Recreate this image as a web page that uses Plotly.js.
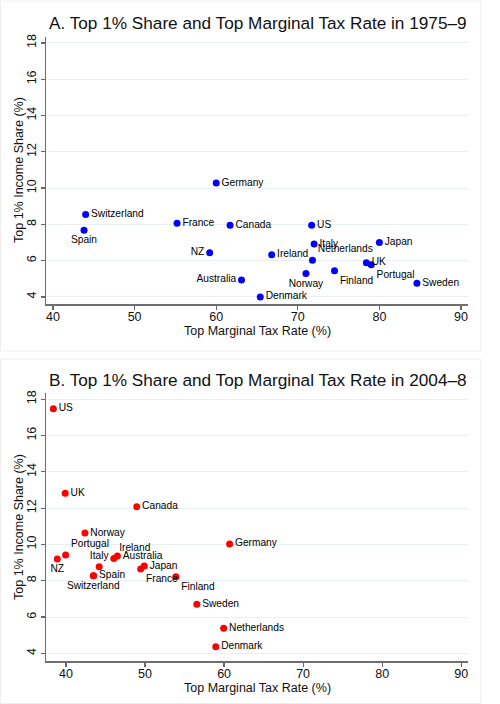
<!DOCTYPE html>
<html>
<head>
<meta charset="utf-8">
<script src="https://cdn.plot.ly/plotly-3.0.1.min.js"></script>
<style>
  html, body { margin: 0; padding: 0; background: #fff; }
  #chart { width: 500px; height: 704px; }
</style>
</head>
<body>
<div id="chart"></div>
<script>
// Panel A, 1975-9
const countriesA = ["Germany", "Switzerland", "Spain", "France", "Canada", "US", "NZ", "Italy", "Japan",
  "Ireland", "Netherlands", "UK", "Portugal", "Finland", "Norway", "Australia", "Sweden", "Denmark"];
const taxRateA = [60.0, 44.0, 43.8, 55.2, 61.7, 71.7, 59.2, 72.0, 80.0,
  66.8, 71.8, 78.4, 79.0, 74.5, 71.0, 63.1, 84.6, 65.4];
const top1ShareA = [10.28, 8.54, 7.67, 8.06, 7.95, 7.95, 6.43, 6.92, 7.0,
  6.33, 6.02, 5.89, 5.78, 5.45, 5.29, 4.94, 4.75, 4.0];

// Panel B, 2004-8
const countriesB = ["US", "UK", "Canada", "Norway", "Germany", "Portugal", "NZ", "Italy", "Ireland",
  "Australia", "Spain", "Switzerland", "Japan", "France", "Finland", "Sweden", "Netherlands", "Denmark"];
const taxRateB = [38.4, 39.9, 48.95, 42.4, 60.7, 39.95, 38.9, 44.2, 46.05,
  46.5, 43.5, 43.45, 49.9, 49.45, 53.9, 56.55, 59.95, 58.95];
const top1ShareB = [17.47, 12.82, 12.08, 10.63, 10.03, 9.42, 9.2, 8.77, 9.22,
  9.36, 8.28, 8.27, 8.81, 8.65, 8.22, 6.7, 5.38, 4.36];

const xTicks = [40, 50, 60, 70, 80, 90];
const yTicks = [4, 6, 8, 10, 12, 14, 16, 18];

// where each country label sits relative to its dot
const labelPosA = ["middle right", "middle right", "bottom center", "middle right", "middle right",
  "middle right", "middle left", "middle right", "middle right", "middle right", "top right",
  "middle right", "bottom right", "bottom right", "bottom center", "middle left", "middle right",
  "middle right"];
const labelPosB = ["middle right", "middle right", "middle right", "middle right", "middle right",
  "top right", "bottom center", "top center", "top right", "middle right", "middle right",
  "bottom center", "middle right", "bottom right", "bottom right", "middle right", "middle right",
  "middle right"];

const FONT = "Liberation Sans, Arial, Helvetica, sans-serif";

function scatter(x, y, text, pos, color, xa, ya) {
  return {
    x: x, y: y, text: text, textposition: pos,
    type: "scatter", mode: "markers+text",
    xaxis: xa, yaxis: ya,
    marker: { color: color, size: 7 },
    textfont: { family: FONT, size: 10.2, color: "#000" },
    cliponaxis: false,
    hoverinfo: "skip",
    showlegend: false,
  };
}

function xAxis(range, domain, anchor) {
  return {
    domain: domain, anchor: anchor, range: range,
    tickvals: xTicks, ticks: "outside", ticklen: 4, tickwidth: 1.2, tickcolor: "#666",
    ticklabelstandoff: -4,
    showline: true, linecolor: "#6e6e6e", linewidth: 1.5,
    showgrid: false, zeroline: false,
    tickfont: { family: FONT, size: 12.5, color: "#111" },
  };
}

function yAxis(range, domain, anchor) {
  return {
    domain: domain, anchor: anchor, range: range,
    tickvals: yTicks, ticks: "outside", ticklen: 4, tickwidth: 1.2, tickcolor: "#666",
    tickangle: -90,
    showline: true, linecolor: "#6e6e6e", linewidth: 1.5,
    showgrid: true, gridcolor: "#e8f0f1", gridwidth: 1,
    zeroline: false,
    tickfont: { family: FONT, size: 12.5, color: "#111" },
  };
}

function label(text, x, y, size, opts) {
  return Object.assign({
    text: text, x: x, y: y, xref: "paper", yref: "paper",
    showarrow: false, font: { family: FONT, size: size, color: "#111" },
  }, opts || {});
}

const H = 704, W = 500;
const px = (v) => v / W;
const py = (v) => 1 - v / H;

const data = [
  scatter(taxRateA, top1ShareA, countriesA, labelPosA, "#0000ff", "x", "y"),
  scatter(taxRateB, top1ShareB, countriesB, labelPosB, "#ff0000", "x2", "y2"),
];

const layout = {
  width: W, height: H,
  margin: { l: 0, r: 0, t: 0, b: 0 },
  paper_bgcolor: "#fff", plot_bgcolor: "#fff",
  xaxis: xAxis([39.14, 90.86], [px(46), px(468)], "y"),
  yaxis: yAxis([3.61, 18.33], [py(304), py(37)], "x"),
  xaxis2: xAxis([37.47, 90.86], [px(46), px(468)], "y2"),
  yaxis2: yAxis([3.58, 18.36], [py(661), py(392.7)], "x2"),
  shapes: [
    { type: "rect", xref: "paper", yref: "paper", x0: px(0.5), x1: px(481), y0: py(351), y1: py(1),
      line: { color: "#eeeeee", width: 1 } },
    { type: "rect", xref: "paper", yref: "paper", x0: px(0.5), x1: px(481), y0: py(703.5), y1: py(359),
      line: { color: "#eeeeee", width: 1 } },
  ],
  annotations: [
    label("A. Top 1% Share and Top Marginal Tax Rate in 1975\u20139", px(47), py(23), 17.2,
      { xanchor: "left", yanchor: "middle" }),
    label("Top Marginal Tax Rate (%)", px(257.5), py(331), 12.5, { xanchor: "center", yanchor: "middle" }),
    label("Top 1% Income Share (%)", px(19), py(170), 12.5,
      { xanchor: "center", yanchor: "middle", textangle: -90 }),
    label("B. Top 1% Share and Top Marginal Tax Rate in 2004\u20138", px(47), py(380), 17.2,
      { xanchor: "left", yanchor: "middle" }),
    label("Top Marginal Tax Rate (%)", px(257.5), py(688), 12.5, { xanchor: "center", yanchor: "middle" }),
    label("Top 1% Income Share (%)", px(19), py(527), 12.5,
      { xanchor: "center", yanchor: "middle", textangle: -90 }),
  ],
};

Plotly.newPlot("chart", data, layout, { displayModeBar: false, staticPlot: true });
</script>
</body>
</html>
